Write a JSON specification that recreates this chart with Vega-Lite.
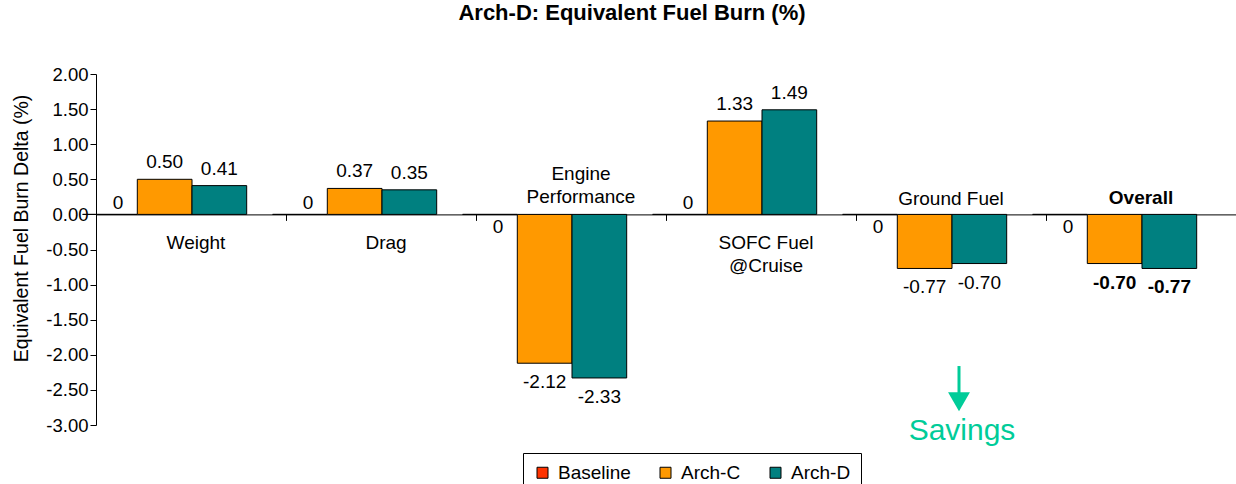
{
  "$schema": "https://vega.github.io/schema/vega-lite/v6.json",
  "autosize": {"type": "none"},
  "width": 1140,
  "height": 351,
  "padding": {"left": 96, "top": 74, "right": 0, "bottom": 59},
  "background": "white",
  "title": {
    "text": "Arch-D: Equivalent Fuel Burn (%)",
    "font": "Liberation Sans",
    "fontSize": 22,
    "fontWeight": "bold",
    "color": "black",
    "anchor": "middle",
    "frame": "group",
    "dx": -34,
    "offset": 40
  },
  "config": {
    "view": {"stroke": null},
    "font": "Liberation Sans",
    "locale": {"number": {"decimal": ".", "thousands": ",", "grouping": [3], "currency": ["$", ""], "minus": "-"}},
    "text": {"font": "Liberation Sans", "fontSize": 19, "color": "black"}
  },
  "data": {
    "values": [
      {"category": "Weight", "series": "Baseline", "value": 0},
      {"category": "Weight", "series": "Arch-C", "value": 0.50},
      {"category": "Weight", "series": "Arch-D", "value": 0.41},
      {"category": "Drag", "series": "Baseline", "value": 0},
      {"category": "Drag", "series": "Arch-C", "value": 0.37},
      {"category": "Drag", "series": "Arch-D", "value": 0.35},
      {"category": "Engine\nPerformance", "series": "Baseline", "value": 0},
      {"category": "Engine\nPerformance", "series": "Arch-C", "value": -2.12},
      {"category": "Engine\nPerformance", "series": "Arch-D", "value": -2.33},
      {"category": "SOFC Fuel\n@Cruise", "series": "Baseline", "value": 0},
      {"category": "SOFC Fuel\n@Cruise", "series": "Arch-C", "value": 1.33},
      {"category": "SOFC Fuel\n@Cruise", "series": "Arch-D", "value": 1.49},
      {"category": "Ground Fuel", "series": "Baseline", "value": 0},
      {"category": "Ground Fuel", "series": "Arch-C", "value": -0.77},
      {"category": "Ground Fuel", "series": "Arch-D", "value": -0.70},
      {"category": "Overall", "series": "Baseline", "value": 0},
      {"category": "Overall", "series": "Arch-C", "value": -0.70},
      {"category": "Overall", "series": "Arch-D", "value": -0.77}
    ]
  },
  "encoding": {
    "x": {
      "field": "category",
      "type": "nominal",
      "sort": null,
      "scale": {"paddingInner": 0, "paddingOuter": 0},
      "axis": {
        "orient": "bottom",
        "offset": -210.6,
        "title": null,
        "labels": false,
        "tickBand": "extent",
        "tickSize": 6,
        "tickColor": "black",
        "domainColor": "black",
        "domainWidth": 1,
        "tickWidth": 1
      }
    },
    "y": {
      "field": "value",
      "type": "quantitative",
      "scale": {"domain": [-3, 2], "nice": false, "zero": false},
      "axis": {
        "title": "Equivalent Fuel Burn Delta (%)",
        "titleFontSize": 19.5,
        "titleFontWeight": "normal",
        "titleColor": "black",
        "titlePadding": 14,
        "titleY": 154,
        "values": [-3, -2.5, -2, -1.5, -1, -0.5, 0, 0.5, 1, 1.5, 2],
        "format": ".2f",
        "labelFontSize": 18.5,
        "labelColor": "black",
        "labelPadding": 2,
        "tickSize": 6,
        "tickColor": "black",
        "domainColor": "black",
        "grid": false
      }
    }
  },
  "layer": [
    {
      "mark": {"type": "bar", "stroke": "black", "strokeWidth": 1},
      "encoding": {
        "xOffset": {
          "field": "series",
          "type": "nominal",
          "scale": {"domain": ["Baseline", "Arch-C", "Arch-D"], "range": [-13.4, 150.7], "paddingInner": 0, "paddingOuter": 0}
        },
        "color": {
          "field": "series",
          "type": "nominal",
          "scale": {"domain": ["Baseline", "Arch-C", "Arch-D"], "range": ["#FF3300", "#FF9900", "#008080"]},
          "legend": {
            "title": null,
            "orient": "none",
            "direction": "horizontal",
            "legendX": 427,
            "legendY": 379,
            "strokeColor": "black",
            "padding": 10,
            "symbolType": "square",
            "symbolSize": 121,
            "symbolStrokeColor": "black",
            "symbolStrokeWidth": 1,
            "labelFontSize": 19,
            "labelColor": "black",
            "labelOffset": 6,
            "columnPadding": 25
          }
        }
      }
    },
    {
      "transform": [{"filter": "datum.series != 'Baseline' && datum.value > 0"}],
      "mark": {"type": "text", "baseline": "middle", "dy": -17},
      "encoding": {
        "xOffset": {"field": "series", "type": "nominal"},
        "text": {"field": "value", "type": "quantitative", "format": ".2f"}
      }
    },
    {
      "transform": [{"filter": "datum.series != 'Baseline' && datum.value < 0 && datum.category != 'Overall'"}],
      "mark": {"type": "text", "baseline": "middle", "dy": 19},
      "encoding": {
        "xOffset": {"field": "series", "type": "nominal"},
        "text": {"field": "value", "type": "quantitative", "format": ".2f"}
      }
    },
    {
      "transform": [{"filter": "datum.series != 'Baseline' && datum.value < 0 && datum.category == 'Overall'"}],
      "mark": {"type": "text", "baseline": "middle", "dy": 19, "fontWeight": "bold"},
      "encoding": {
        "xOffset": {"field": "series", "type": "nominal"},
        "text": {"field": "value", "type": "quantitative", "format": ".2f"}
      }
    },
    {
      "transform": [
        {"joinaggregate": [{"op": "sum", "field": "value", "as": "total"}], "groupby": ["category"]},
        {"filter": "datum.series == 'Baseline' && datum.total > 0"}
      ],
      "mark": {"type": "text", "baseline": "middle", "dy": -11, "dx": 8},
      "encoding": {
        "xOffset": {"field": "series", "type": "nominal"},
        "y": {"datum": 0},
        "text": {"field": "value", "type": "nominal"}
      }
    },
    {
      "transform": [
        {"joinaggregate": [{"op": "sum", "field": "value", "as": "total"}], "groupby": ["category"]},
        {"filter": "datum.series == 'Baseline' && datum.total < 0"}
      ],
      "mark": {"type": "text", "baseline": "middle", "dy": 13, "dx": 8},
      "encoding": {
        "xOffset": {"field": "series", "type": "nominal"},
        "y": {"datum": 0},
        "text": {"field": "value", "type": "nominal"}
      }
    },
    {
      "transform": [{"filter": "datum.series == 'Arch-D' && datum.value > 0"}],
      "mark": {"type": "text", "baseline": "alphabetic", "dy": 35, "dx": 5, "lineBreak": "\n", "lineHeight": 23},
      "encoding": {
        "y": {"datum": 0},
        "text": {"field": "category", "type": "nominal"}
      }
    },
    {
      "transform": [{"filter": "datum.series == 'Arch-D' && datum.value < 0 && indexof(datum.category, '\\n') >= 0"}],
      "mark": {"type": "text", "baseline": "alphabetic", "dy": -34, "dx": 10, "lineBreak": "\n", "lineHeight": 22.5},
      "encoding": {
        "y": {"datum": 0},
        "text": {"field": "category", "type": "nominal"}
      }
    },
    {
      "transform": [{"filter": "datum.series == 'Arch-D' && datum.value < 0 && indexof(datum.category, '\\n') < 0 && datum.category != 'Overall'"}],
      "mark": {"type": "text", "baseline": "alphabetic", "dy": -9},
      "encoding": {
        "y": {"datum": 0},
        "text": {"field": "category", "type": "nominal"}
      }
    },
    {
      "transform": [{"filter": "datum.series == 'Arch-D' && datum.category == 'Overall'"}],
      "mark": {"type": "text", "baseline": "alphabetic", "dy": -10, "fontWeight": "bold"},
      "encoding": {
        "y": {"datum": 0},
        "text": {"field": "category", "type": "nominal"}
      }
    },
    {
      "transform": [{"filter": "datum.series == 'Arch-D' && datum.category == 'Ground Fuel'"}],
      "mark": {"type": "rule", "color": "#00CC99", "strokeWidth": 3},
      "encoding": {
        "xOffset": {"value": 103},
        "y": {"datum": -2.16},
        "y2": {"datum": -2.6}
      }
    },
    {
      "transform": [{"filter": "datum.series == 'Arch-D' && datum.category == 'Ground Fuel'"}],
      "mark": {"type": "point", "shape": "triangle-down", "filled": true, "color": "#00CC99", "opacity": 1, "size": 480},
      "encoding": {
        "xOffset": {"value": 103},
        "y": {"datum": -2.67}
      }
    },
    {
      "transform": [{"filter": "datum.series == 'Arch-D' && datum.category == 'Ground Fuel'"}],
      "mark": {"type": "text", "color": "#00CC99", "fontSize": 30, "baseline": "alphabetic", "dx": 11},
      "encoding": {
        "y": {"datum": -3.22},
        "text": {"value": "Savings"}
      }
    }
  ]
}
